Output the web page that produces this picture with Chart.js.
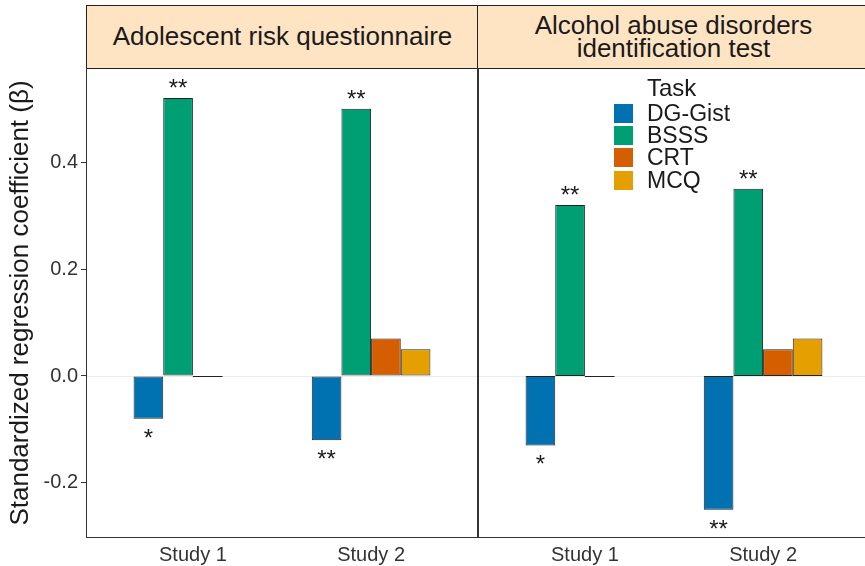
<!DOCTYPE html>
<html>
<head>
<meta charset="utf-8">
<title>Standardized regression coefficients by task</title>
<script src="https://cdn.jsdelivr.net/npm/chart.js@4.4.1/dist/chart.umd.min.js"></script>
<style>
  html, body { margin: 0; padding: 0; background: #fff; }
  body { width: 865px; height: 566px; position: relative; overflow: hidden;
         font-family: "Liberation Sans", Arial, Helvetica, sans-serif; }
  canvas { position: absolute; top: 68px; }
  .strip { position: absolute; top: 5px; height: 62px; width: 391px; border: 1px solid #222;
           background: #ffe4c4; color: #1a1a1a; font-size: 26px; line-height: 0.9;
           display: flex; align-items: center; justify-content: center; text-align: center; }
  #legend { position: absolute; left: 614px; top: 74px; color: #1a1a1a; }
  #legend .title { font-size: 24px; margin-left: 33px; height: 28px; line-height: 28px; }
  #legend .row { display: flex; align-items: center; height: 22.3px; font-size: 23px; }
  #legend .sw { width: 19px; height: 19px; margin-right: 14px; }
</style>
</head>
<body>
<div class="strip" id="strip0" style="left:86px"></div>
<div class="strip" id="strip1" style="left:477px"></div>
<canvas id="arq" width="478" height="498" style="left:0"></canvas>
<canvas id="audit" width="392" height="498" style="left:478px"></canvas>
<div id="legend"></div>
<script>
// facets, categories and tasks
const facets = ['Adolescent risk questionnaire', 'Alcohol abuse disorders<br>identification test'];
const studies = ['Study 1', 'Study 2'];
const tasks = ['DG-Gist', 'BSSS', 'CRT', 'MCQ'];
const taskColors = ['#0072B2', '#009E73', '#D55E00', '#E69F00'];

// standardized betas, one array per task (null = not measured)
const arqDGGist = [-0.08, -0.12];
const arqBSSS = [0.52, 0.50];
const arqCRT = [0, 0.07];
const arqMCQ = [null, 0.05];

const auditDGGist = [-0.13, -0.25];
const auditBSSS = [0.32, 0.35];
const auditCRT = [0, 0.05];
const auditMCQ = [null, 0.07];

// significance stars per task and study
const arqSig = [['*', '**'], ['**', '**'], ['', ''], ['', '']];
const auditSig = [['*', '**'], ['**', '**'], ['', ''], ['', '']];

const yTicks = [-0.2, 0, 0.2, 0.4];
const yMin = -0.303, yMax = 0.576;

const FONT = '"Liberation Sans", Arial, Helvetica, sans-serif';

document.getElementById('strip0').innerHTML = facets[0];
document.getElementById('strip1').innerHTML = facets[1];

const legend = document.getElementById('legend');
legend.innerHTML = '<div class="title">Task</div>' + tasks.map((t, i) =>
  '<div class="row"><span class="sw" style="background:' + taskColors[i] + '"></span>' + t + '</div>'
).join('');

function makeDatasets(series) {
  return series.map((vals, i) => ({
    label: tasks[i],
    data: vals.map((v, j) => ({ x: j + 1, y: v })).filter(p => p.y !== null),
    backgroundColor: taskColors[i],
    borderColor: '#222',
    borderWidth: 1,
    borderSkipped: false,
    categoryPercentage: 0.666,
    barPercentage: 1
  }));
}

// panel frame, zero reference line, zero-height bars and stars
function panelPlugin(sig) {
  return {
    id: 'panel',
    beforeDatasetsDraw(chart) {
      const { ctx, chartArea: a, scales } = chart;
      const y0 = Math.round(scales.y.getPixelForValue(0)) + 0.5;
      ctx.save();
      ctx.strokeStyle = '#ebebeb';
      ctx.lineWidth = 1;
      ctx.beginPath();
      ctx.moveTo(a.left, y0);
      ctx.lineTo(a.right, y0);
      ctx.stroke();
      ctx.restore();
    },
    afterDatasetsDraw(chart) {
      const { ctx, chartArea: a } = chart;
      ctx.save();
      chart.data.datasets.forEach((ds, di) => {
        const meta = chart.getDatasetMeta(di);
        meta.data.forEach((bar, k) => {
          const p = ds.data[k];
          if (p.y === 0) {
            ctx.strokeStyle = '#222';
            ctx.lineWidth = 1;
            ctx.beginPath();
            ctx.moveTo(bar.x - bar.width / 2, Math.round(bar.y) + 0.5);
            ctx.lineTo(bar.x + bar.width / 2, Math.round(bar.y) + 0.5);
            ctx.stroke();
          }
          const s = sig[di][p.x - 1];
          if (s) {
            ctx.fillStyle = '#1a1a1a';
            ctx.font = '24px ' + FONT;
            ctx.textAlign = 'center';
            ctx.textBaseline = 'alphabetic';
            const ty = p.y >= 0 ? bar.y - 2 : bar.y + 27;
            ctx.fillText(s, bar.x, ty);
          }
        });
      });
      ctx.strokeStyle = '#333';
      ctx.lineWidth = 1;
      ctx.strokeRect(a.left + 0.5, a.top - 0.5, a.right - a.left - 1, a.bottom - a.top);
      ctx.restore();
    }
  };
}

function makeChart(id, series, sig, showY) {
  return new Chart(document.getElementById(id), {
    type: 'bar',
    data: { datasets: makeDatasets(series) },
    options: {
      responsive: false,
      animation: false,
      layout: { padding: 0 },
      plugins: { legend: { display: false }, tooltip: { enabled: false } },
      scales: {
        x: {
          type: 'linear',
          min: 0.4,
          max: 2.6,
          offset: false,
          afterBuildTicks: s => { s.ticks = studies.map((_, i) => ({ value: i + 1 })); },
          afterFit: s => { s.height = 28; s.paddingLeft = 0; s.paddingRight = 0; },
          grid: { display: false, drawTicks: false },
          border: { display: false },
          ticks: {
            padding: 5,
            color: '#333',
            font: { family: FONT, size: 20 },
            maxRotation: 0,
            autoSkip: false,
            callback: v => studies[v - 1]
          }
        },
        y: {
          display: showY,
          min: yMin,
          max: yMax,
          afterBuildTicks: s => { s.ticks = yTicks.map(v => ({ value: v })); },
          afterFit: s => { if (showY) s.width = 86; s.paddingTop = 0; s.paddingBottom = 0; },
          grid: { drawOnChartArea: false, drawTicks: true, tickLength: 5, tickColor: '#333', color: '#333' },
          border: { display: false },
          ticks: {
            padding: 3,
            color: '#333',
            font: { family: FONT, size: 20 },
            callback: v => v.toFixed(1)
          },
          title: {
            display: true,
            text: 'Standardized regression coefficient (β)',
            color: '#1a1a1a',
            font: { family: FONT, size: 26 },
            padding: { top: 5, bottom: 0 }
          }
        }
      }
    },
    plugins: [panelPlugin(sig)]
  });
}

makeChart('arq', [arqDGGist, arqBSSS, arqCRT, arqMCQ], arqSig, true);
makeChart('audit', [auditDGGist, auditBSSS, auditCRT, auditMCQ], auditSig, false);
</script>
</body>
</html>
